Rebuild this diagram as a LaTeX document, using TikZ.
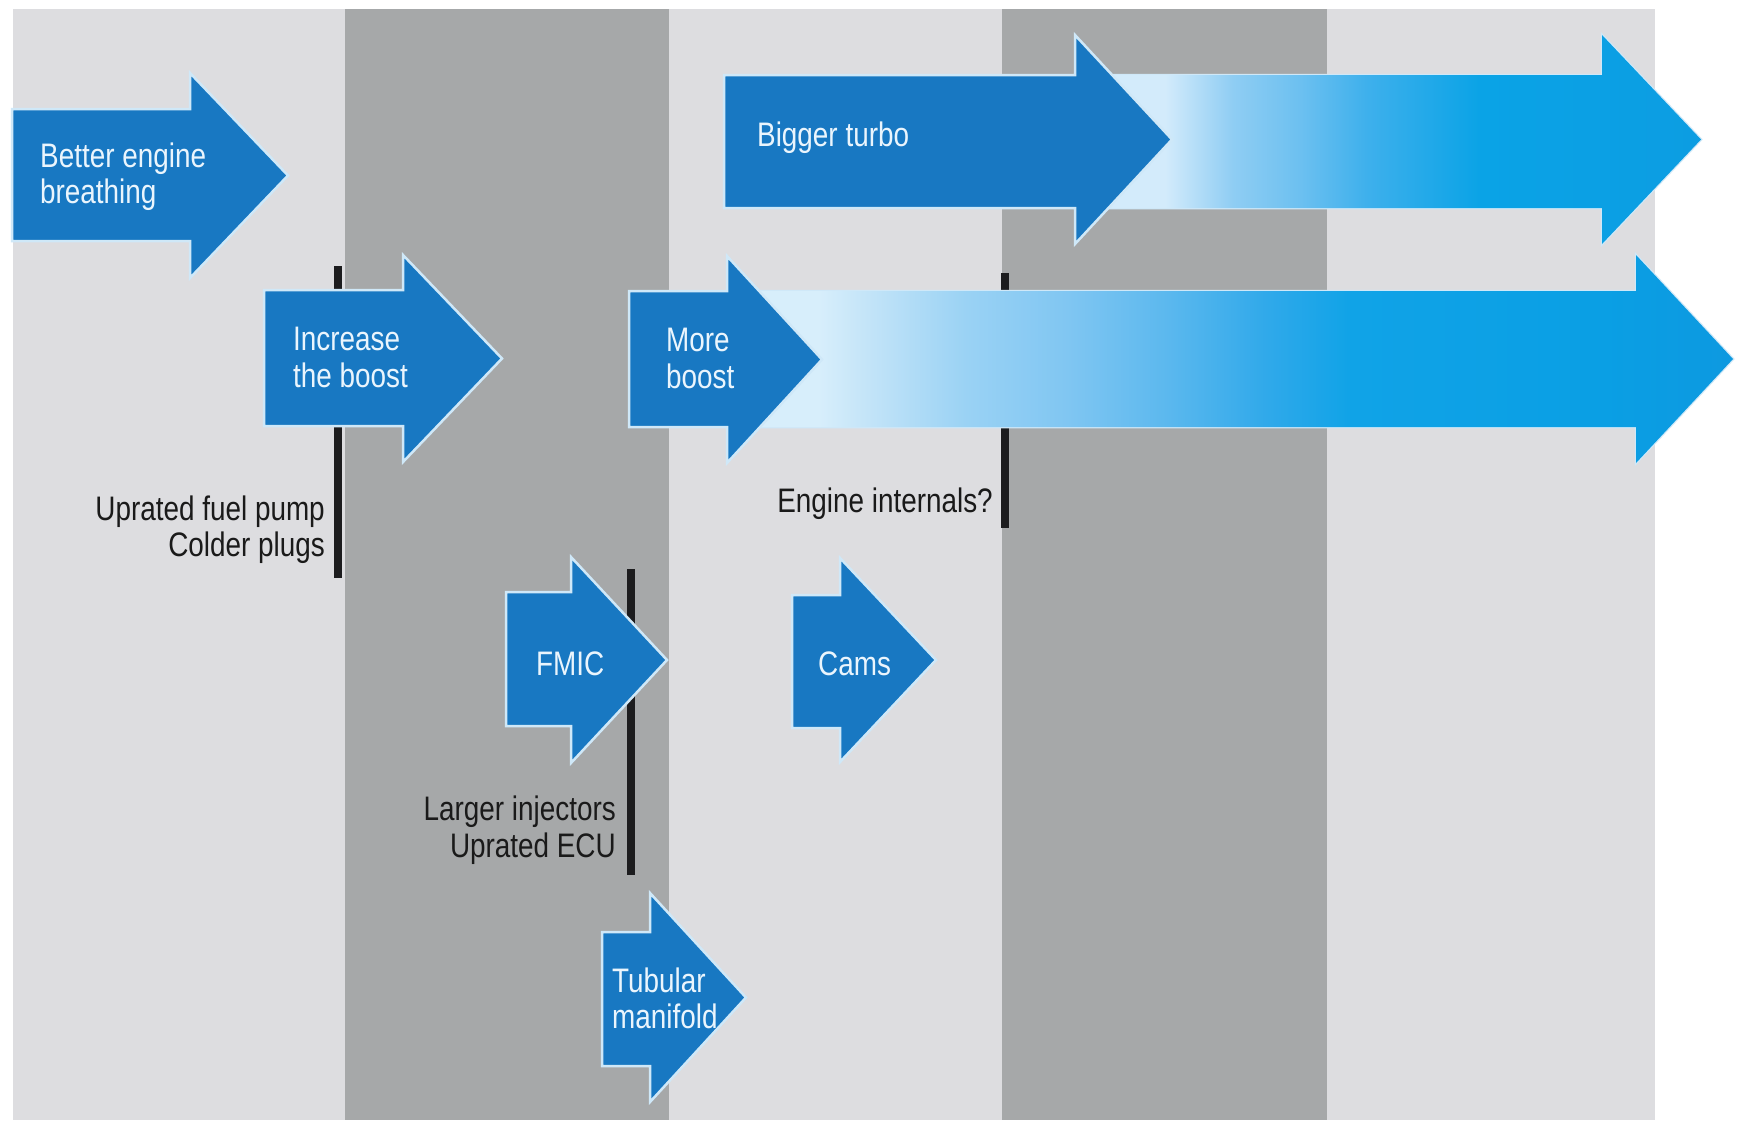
\documentclass[tikz,border=0pt]{standalone}
\usepackage{fontspec}
\newfontfamily\condfont{Liberation Sans}[FakeStretch=0.82]
\definecolor{panellight}{HTML}{DDDDE0}
\definecolor{paneldark}{HTML}{A6A8A9}
\definecolor{arrowblue}{HTML}{1878C2}
\definecolor{halo}{HTML}{CFE8F8}
\definecolor{barblack}{HTML}{1C1C1E}
\definecolor{labeltxt}{HTML}{1A1A1A}
\definecolor{arrowtxt}{HTML}{EAF5FD}
% gradient colours, top arrow
\definecolor{ga1}{HTML}{D3EBFB}
\definecolor{ga2}{HTML}{8FCDF3}
\definecolor{ga3}{HTML}{6CC0F0}
\definecolor{ga4}{HTML}{3EB0EC}
\definecolor{ga5}{HTML}{0AA3E6}
\definecolor{ga6}{HTML}{0C9DE2}
% gradient colours, lower arrow
\definecolor{gb1}{HTML}{D7EEFB}
\definecolor{gb2}{HTML}{C3E4F8}
\definecolor{gb3}{HTML}{9AD2F4}
\definecolor{gb4}{HTML}{80C6F2}
\definecolor{gb5}{HTML}{5BB8EE}
\definecolor{gb6}{HTML}{30A9EA}
\definecolor{gb7}{HTML}{10A3E7}
\definecolor{gb8}{HTML}{0A9FE4}
\definecolor{gb9}{HTML}{0D99E0}
\pgfdeclarehorizontalshading{turboshade}{100bp}{color(0bp)=(ga1); color(32.2bp)=(ga1); color(37.6bp)=(ga2); color(43bp)=(ga3); color(48.3bp)=(ga4); color(57.4bp)=(ga5); color(75bp)=(ga6); color(100bp)=(ga6)}
\pgfdeclarehorizontalshading{boostshade}{100bp}{color(0bp)=(gb1); color(29.6bp)=(gb1); color(32bp)=(gb2); color(36.9bp)=(gb3); color(41.9bp)=(gb4); color(46.9bp)=(gb5); color(51.8bp)=(gb6); color(56bp)=(gb7); color(68.4bp)=(gb8); color(75bp)=(gb9); color(100bp)=(gb9)}
% left, top, bottom, head back, head top, head bottom, tip x, tip y
\newcommand{\arrowpath}[8]{(#1,#2) -- (#4,#2) -- (#4,#5) -- (#7,#8) -- (#4,#6) -- (#4,#3) -- (#1,#3) -- cycle}
\tikzset{
  solidarrow/.style={fill=arrowblue, draw=halo, line width=2.5pt, line join=miter},
  halostroke/.style={draw=halo, line width=2.5pt, line join=miter},
  barline/.style={fill=barblack},
  atxt/.style={font=\condfont\fontsize{34}{37}\selectfont, text=arrowtxt, inner sep=0pt, anchor=base west},
  lbl/.style={font=\condfont\fontsize{34}{37}\selectfont, text=labeltxt, inner sep=0pt, anchor=base east},
}
\begin{document}
\begin{tikzpicture}[x=1pt, y=-1pt]
\useasboundingbox (0,0) rectangle (1743,1120);
\fill[white] (0,0) rectangle (1743,1120);
% background columns
\fill[panellight] (13,9) rectangle (1655,1120);
\fill[paneldark] (345,9) rectangle (669,1120);
\fill[paneldark] (1002,9) rectangle (1327,1120);
% black bars
\fill[barline] (334,266) rectangle (342,578);
\fill[barline] (627,569) rectangle (635,875);
\fill[barline] (1001,273) rectangle (1009,528);
% gradient arrows
\path[halostroke] \arrowpath{1075}{75}{208}{1602}{35}{244}{1701}{139.5};
\shade[shading=turboshade] \arrowpath{1075}{75}{208}{1602}{35}{244}{1701}{139.5};
\path[halostroke] \arrowpath{727}{291}{427}{1636}{255}{463}{1733}{359};
\shade[shading=boostshade] \arrowpath{727}{291}{427}{1636}{255}{463}{1733}{359};
% solid arrows
\draw[solidarrow] \arrowpath{12}{109}{241}{190}{73}{278}{288}{175.5};
\draw[solidarrow] \arrowpath{264}{290}{426}{403}{255}{462}{502}{358.5};
\draw[solidarrow] \arrowpath{629}{291}{427}{727}{256}{463}{822}{359.5};
\draw[solidarrow] \arrowpath{724}{75}{208}{1075}{35}{244}{1172}{139.5};
\draw[solidarrow] \arrowpath{506}{592}{726}{571}{557}{763}{667}{660};
\draw[solidarrow] \arrowpath{792}{595}{728}{840}{558}{762}{936}{660};
\draw[solidarrow] \arrowpath{602}{932}{1066}{650}{893}{1102}{746}{997.5};
% arrow texts
\node[atxt] (be1) at (40,167) {Better engine};
\node[atxt] (be2) at (40,203) {breathing};
\node[atxt] (ib1) at (293,350) {Increase};
\node[atxt] (ib2) at (293,387) {the boost};
\node[atxt] (mb1) at (666,351) {More};
\node[atxt] (mb2) at (666,388) {boost};
\node[atxt] (bt) at (757,146) {Bigger turbo};
\node[atxt] (fm) at (536,675) {FMIC};
\node[atxt] (cm) at (818,675) {Cams};
\node[atxt] (tm1) at (612,992) {Tubular};
\node[atxt] (tm2) at (612,1028) {manifold};
% labels
\node[lbl] (l1) at (325,520) {Uprated fuel pump};
\node[lbl] (l2) at (325,556) {Colder plugs};
\node[lbl] (l3) at (616,820) {Larger injectors};
\node[lbl] (l4) at (616,857) {Uprated ECU};
\node[lbl] (l5) at (993,512) {Engine internals?};
\end{tikzpicture}
\end{document}
